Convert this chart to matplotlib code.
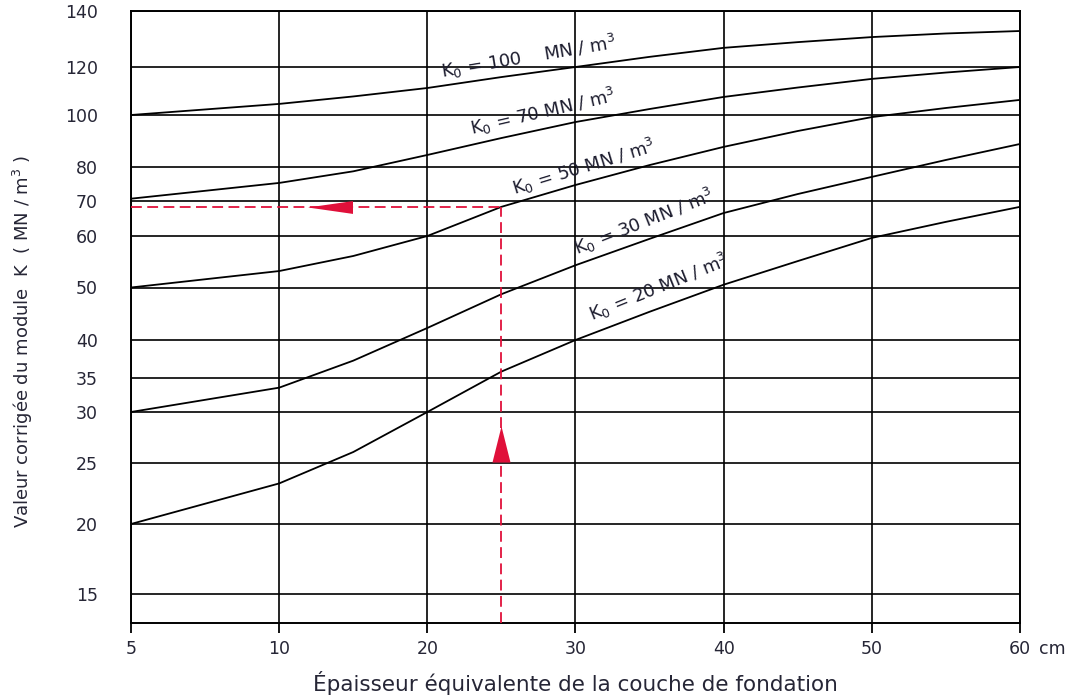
import numpy as np
import matplotlib
matplotlib.use("Agg")
import matplotlib.pyplot as plt
from matplotlib.transforms import offset_copy

# ---------------- data ----------------
thickness_cm = [5, 10, 15, 20, 25, 30, 35, 40, 45, 50, 55, 60]
k0_labels = [100, 70, 50, 30, 20]
k_for_k0_100 = [100.0, 104.3, 107.3, 110.8, 115.5, 120.0, 123.4, 126.5, 128.5, 130.3, 131.6, 132.5]
k_for_k0_70 = [70.5, 75.0, 78.5, 84.1, 90.5, 97.0, 102.3, 107.1, 111.0, 114.7, 117.5, 120.0]
k_for_k0_50 = [50.0, 53.0, 55.9, 60.0, 68.1, 74.4, 80.5, 87.1, 93.3, 99.1, 102.7, 105.9]
k_for_k0_30 = [30.0, 33.5, 37.2, 42.1, 48.6, 54.1, 59.4, 66.3, 71.8, 76.8, 82.3, 88.2]
k_for_k0_20 = [20.0, 23.2, 26.0, 30.0, 35.8, 40.0, 45.1, 50.5, 54.9, 59.6, 63.8, 68.1]

x_ticks = [5, 10, 20, 30, 40, 50, 60]
y_ticks = [15, 20, 25, 30, 35, 40, 50, 60, 70, 80, 100, 120, 140]

# worked example: 25 cm -> K = 68
example_thickness = 25
example_k = 68

# ---------------- axis scales (printed non-uniform abaque graduations) ----------------
def x_fwd(x):
    x = np.asarray(x, dtype=float)
    return np.where(x < 10, (x - 5) / 5.0, x / 10.0)

def x_inv(t):
    t = np.asarray(t, dtype=float)
    return np.where(t < 1, 5 + 5 * t, 10 * t)

y_cal_vals = np.log10([13.3, 15, 20, 25, 30, 35, 40, 50, 60, 70, 80, 100, 120, 140])
y_cal_pos = np.array([0, 29, 99, 160, 211, 245, 283, 335.5, 387, 422.5, 456.5, 508, 556, 612], dtype=float)

def y_fwd(v):
    v = np.clip(np.asarray(v, dtype=float), 1e-6, None)
    return np.interp(np.log10(v), y_cal_vals, y_cal_pos)

def y_inv(p):
    p = np.asarray(p, dtype=float)
    return 10 ** np.interp(p, y_cal_pos, y_cal_vals)

# ---------------- figure ----------------
plt.rcParams["font.family"] = ["DejaVu Sans"]
plt.rcParams["mathtext.default"] = "regular"

fig = plt.figure(figsize=(10.76, 6.97), dpi=100)
ax = fig.add_axes([131 / 1076, 1 - 623 / 697, 889 / 1076, 612 / 697])

ax.set_xscale("function", functions=(x_fwd, x_inv))
ax.set_yscale("function", functions=(y_fwd, y_inv))
ax.set_xlim(5, 60)
ax.set_ylim(13.3, 140)

ax.set_xticks(x_ticks)
ax.set_xticklabels([str(v) for v in x_ticks])
ax.set_yticks(y_ticks)
ax.set_yticklabels([str(v) for v in y_ticks])
ax.minorticks_off()

ax.grid(True, color="black", linewidth=1.2, zorder=1)
for s in ax.spines.values():
    s.set_color("black")
    s.set_linewidth(1.4)

tick_color = "#262636"
ax.tick_params(axis="x", direction="out", length=7.5, width=1.3, pad=5,
               labelsize=12.5, colors="black", labelcolor=tick_color)
ax.tick_params(axis="y", length=0, pad=24, labelsize=12.5, labelcolor=tick_color)

curves = [k_for_k0_100, k_for_k0_70, k_for_k0_50, k_for_k0_30, k_for_k0_20]
for ys in curves:
    ax.plot(thickness_cm, ys, color="black", linewidth=1.3, zorder=3)

# curve labels
label_text_color = "#1c1c2e"
label_tr = offset_copy(ax.transData, fig=fig, x=0, y=1.5, units="points")
label_specs = [
    ("K$_0$ = 100    MN / m$^3$", 21.0, 114.2, 9.5),
    ("K$_0$ = 70 MN / m$^3$", 23.0, 90.9, 13),
    ("K$_0$ = 50 MN / m$^3$", 25.9, 71.0, 17),
    ("K$_0$ = 30 MN / m$^3$", 30.1, 55.7, 21.5),
    ("K$_0$ = 20 MN / m$^3$", 31.1, 43.0, 22),
]
for txt, lx, ly, rot in label_specs:
    ax.text(lx, ly, txt, rotation=rot, rotation_mode="anchor", ha="left", va="baseline",
            fontsize=13, color=label_text_color, zorder=4, transform=label_tr)

# worked example (red dashed reading lines with arrowheads)
red = "#e0103a"
ax.plot([5, example_thickness], [example_k, example_k], color=red, lw=1.3,
        dashes=(6, 3), zorder=5)
ax.plot([example_thickness, example_thickness], [13.3, example_k], color=red, lw=1.3,
        dashes=(6, 3), zorder=5)
ax.plot([example_thickness], [26.8], marker=[(-1, -2), (1, -2), (0, 2)], markersize=26,
        color=red, markeredgewidth=0, zorder=6)
ax.plot([13.4], [example_k], marker=[(-3.5, 0), (3.5, -1), (3.5, 1)], markersize=32.4,
        color=red, markeredgewidth=0, zorder=6)

# axis labels
ax.set_xlabel("Épaisseur équivalente de la couche de fondation", fontsize=15.5,
              color=tick_color, va="center")
ax.xaxis.set_label_coords(0.5, -0.098)
ax.set_ylabel("Valeur corrigée du module  K  ( MN / m$^3$ )", fontsize=13,
              color=tick_color)
ax.yaxis.set_label_coords(-0.108, 0.46)
ax.annotate("cm", xy=(1, 0), xycoords="axes fraction", xytext=(14, -12.5),
            textcoords="offset points", ha="left", va="top", fontsize=12.5,
            color=tick_color)

fig.savefig("out.png", dpi=100)
